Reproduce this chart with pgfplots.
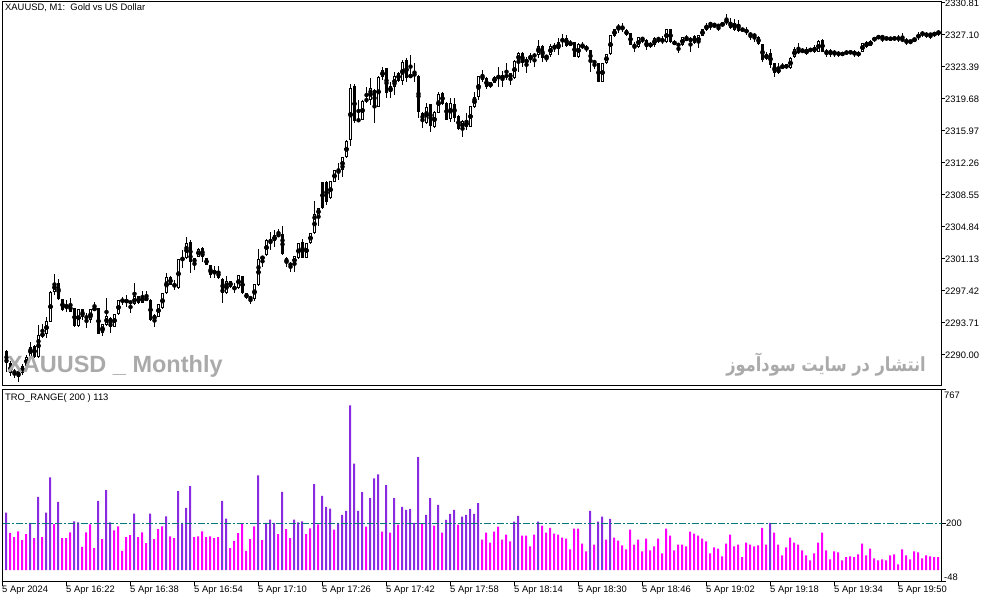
\documentclass[border=0pt]{standalone}
\usepackage{pgfplots}
\pgfplotsset{compat=1.18}
\usepackage{pgfplotstable}
\usepackage{fontspec}
\setmainfont{Liberation Sans}
\newfontfamily\arabicfont[Script=Arabic]{DejaVu Sans}
\TeXXeTstate=1
\definecolor{purp}{RGB}{138,43,226}
\definecolor{mag}{RGB}{255,0,255}
\definecolor{lvl}{RGB}{0,120,120}
\definecolor{wm}{RGB}{170,170,170}
\newcommand{\lbl}{\fontsize{9.4}{11}\selectfont}

\pgfplotstableread{
i O H L C V
1 2290.46 2290.58 2288.07 2289.03 244
2 2289.03 2289.30 2287.60 2287.90 158
3 2287.90 2288.40 2287.30 2288.10 140
4 2288.10 2288.50 2286.90 2287.50 165
5 2287.91 2288.90 2287.70 2288.73 128
6 2288.73 2290.00 2288.50 2289.81 153
7 2289.81 2291.55 2289.60 2290.97 201
8 2291.04 2291.20 2289.70 2289.81 136
9 2289.81 2293.48 2289.70 2292.32 311
10 2292.20 2293.59 2292.00 2292.51 140
11 2292.40 2294.44 2291.93 2293.94 244
12 2293.87 2297.40 2293.80 2297.34 394
13 2297.34 2299.39 2296.96 2298.31 196
14 2298.39 2298.77 2296.40 2296.45 290
15 2296.45 2296.50 2295.10 2295.22 136
16 2295.41 2296.38 2294.95 2295.80 136
17 2295.80 2296.57 2295.00 2295.02 161
18 2295.41 2295.50 2293.30 2293.36 207
19 2293.36 2295.35 2293.30 2295.29 203
20 2295.29 2295.35 2294.06 2294.44 99
21 2294.52 2294.83 2293.09 2294.25 161
22 2294.06 2295.30 2293.67 2295.29 194
23 2295.14 2296.18 2295.10 2295.53 94
24 2295.41 2295.50 2292.40 2292.43 294
25 2292.51 2293.60 2292.20 2293.59 132
26 2293.48 2296.57 2293.40 2294.56 340
27 2294.33 2294.40 2292.59 2293.29 203
28 2293.29 2294.80 2293.20 2294.71 169
29 2294.71 2296.40 2294.60 2296.38 186
30 2296.26 2296.76 2295.80 2296.38 82
31 2296.07 2296.96 2295.53 2296.45 140
32 2296.18 2296.30 2294.83 2296.07 149
33 2295.87 2298.39 2295.80 2296.84 240
34 2296.84 2296.90 2295.90 2295.99 140
35 2296.07 2297.46 2296.00 2296.80 161
36 2296.76 2297.46 2296.20 2296.26 115
37 2296.38 2296.50 2294.00 2294.06 240
38 2294.06 2294.70 2293.29 2294.64 132
39 2294.44 2295.90 2294.40 2295.87 174
40 2295.41 2297.20 2295.30 2297.15 186
41 2297.15 2299.47 2297.10 2299.08 228
42 2299.04 2299.10 2298.10 2298.12 144
43 2298.12 2298.69 2297.54 2298.00 136
44 2297.73 2301.10 2297.70 2301.09 336
45 2301.09 2302.17 2300.05 2301.21 201
46 2301.21 2303.72 2301.10 2303.02 265
47 2303.14 2303.30 2299.54 2300.82 357
48 2301.21 2301.30 2299.85 2300.70 140
49 2301.40 2302.40 2301.30 2302.25 144
50 2302.44 2302.50 2300.78 2301.40 165
51 2301.20 2301.30 2300.40 2300.43 140
52 2300.43 2300.50 2298.89 2299.27 144
53 2299.35 2300.31 2298.89 2299.85 136
54 2299.74 2300.31 2298.80 2298.89 140
55 2298.81 2298.90 2295.99 2297.22 294
56 2297.15 2299.19 2297.10 2298.58 219
57 2298.58 2298.60 2297.80 2297.92 94
58 2297.92 2298.31 2297.15 2297.61 124
59 2297.73 2299.30 2297.60 2299.27 157
60 2299.16 2299.20 2297.10 2297.15 196
61 2297.15 2297.20 2296.50 2296.64 82
62 2296.76 2296.90 2295.87 2296.45 132
63 2296.45 2298.20 2296.30 2298.19 186
64 2298.11 2302.29 2298.00 2301.09 403
65 2301.09 2301.50 2300.24 2301.47 128
66 2301.59 2303.40 2301.50 2303.33 201
67 2303.02 2304.29 2302.17 2303.21 215
68 2303.25 2304.49 2302.48 2303.87 201
69 2303.79 2304.57 2303.70 2303.99 153
70 2303.99 2304.99 2301.60 2301.67 332
71 2301.28 2301.40 2300.24 2300.62 174
72 2300.51 2300.82 2299.66 2300.45 136
73 2300.51 2301.50 2299.66 2301.47 215
74 2301.20 2303.00 2301.10 2302.94 203
75 2303.06 2303.45 2301.20 2301.28 207
76 2301.28 2303.00 2301.20 2302.94 153
77 2303.02 2304.20 2302.90 2304.10 178
78 2304.10 2307.85 2304.00 2306.30 365
79 2306.15 2307.10 2304.99 2307.08 194
80 2310.05 2310.10 2306.90 2307.00 315
81 2310.09 2310.20 2307.39 2307.70 269
82 2308.16 2310.20 2308.10 2310.17 261
83 2310.09 2311.50 2310.00 2311.44 172
84 2311.37 2312.22 2310.28 2311.44 201
85 2311.44 2313.00 2310.67 2312.99 235
86 2312.91 2314.90 2312.80 2314.81 252
87 2314.92 2321.37 2314.22 2320.91 700
88 2321.18 2321.37 2316.85 2317.12 452
89 2317.12 2319.55 2317.04 2317.31 252
90 2317.24 2319.55 2317.20 2319.44 331
91 2319.48 2321.10 2319.17 2319.63 185
92 2319.55 2322.07 2318.97 2320.91 306
93 2320.71 2320.80 2316.85 2318.86 390
94 2318.78 2322.30 2318.70 2322.26 407
95 2322.18 2323.42 2321.87 2323.03 164
96 2323.23 2323.30 2319.75 2320.40 361
97 2320.52 2321.68 2319.75 2321.18 159
98 2321.10 2322.84 2320.13 2322.34 306
99 2322.72 2322.84 2321.70 2321.80 193
100 2321.80 2324.19 2321.29 2324.00 269
101 2324.19 2324.38 2321.68 2322.07 256
102 2322.18 2324.77 2322.10 2322.53 260
103 2322.45 2323.80 2321.68 2322.57 201
104 2322.38 2322.50 2317.51 2318.20 480
105 2318.09 2318.20 2316.27 2317.12 197
106 2316.85 2319.25 2316.80 2318.78 235
107 2319.05 2319.10 2315.88 2316.54 306
108 2316.46 2318.30 2316.27 2318.20 189
109 2318.09 2320.52 2318.00 2320.21 277
110 2320.40 2320.52 2319.00 2319.09 159
111 2319.25 2319.30 2317.20 2317.24 214
112 2317.31 2319.75 2317.04 2319.25 239
113 2319.09 2319.75 2317.04 2317.51 256
114 2317.70 2317.80 2316.10 2316.19 193
115 2316.15 2317.20 2315.30 2317.12 227
116 2316.46 2318.01 2316.08 2317.12 235
117 2316.46 2318.90 2316.40 2318.86 260
118 2318.78 2320.52 2318.70 2319.94 239
119 2319.94 2322.40 2319.55 2322.34 285
120 2322.45 2323.03 2321.68 2321.87 130
121 2322.07 2322.26 2320.79 2321.10 159
122 2321.02 2321.70 2320.91 2321.68 117
123 2321.56 2322.30 2321.50 2322.26 164
124 2322.07 2323.42 2321.10 2322.34 185
125 2322.07 2322.92 2321.10 2322.38 130
126 2322.26 2323.81 2321.88 2322.46 151
127 2322.65 2322.70 2321.30 2322.07 122
128 2322.07 2324.19 2322.00 2324.08 206
129 2324.00 2325.16 2322.84 2325.04 231
130 2325.04 2325.10 2323.42 2323.89 147
131 2323.81 2324.58 2322.73 2324.31 147
132 2324.39 2324.97 2323.81 2324.66 101
133 2324.70 2324.97 2323.35 2324.77 151
134 2324.77 2326.51 2324.39 2325.82 206
135 2325.82 2325.90 2324.00 2324.39 189
136 2324.39 2324.80 2324.00 2324.77 159
137 2324.77 2326.01 2324.58 2325.82 180
138 2325.82 2326.13 2325.16 2325.66 155
139 2325.47 2326.71 2324.77 2326.32 151
140 2326.47 2327.21 2325.74 2326.59 138
141 2326.78 2327.09 2325.74 2325.89 134
142 2325.89 2326.51 2325.80 2326.28 88
143 2326.28 2326.30 2324.50 2324.58 176
144 2324.58 2326.13 2324.50 2326.01 176
145 2325.66 2326.32 2325.43 2325.93 113
146 2325.74 2325.93 2325.16 2325.43 80
147 2325.35 2325.40 2322.84 2324.00 252
148 2324.12 2324.19 2323.11 2323.81 109
149 2323.81 2323.90 2321.60 2321.68 206
150 2321.68 2323.90 2321.60 2323.81 227
151 2323.81 2324.95 2323.70 2324.89 130
152 2324.89 2327.15 2324.80 2327.09 218
153 2326.98 2327.85 2326.90 2327.79 138
154 2327.79 2328.44 2327.29 2328.17 126
155 2328.02 2328.44 2327.48 2327.75 105
156 2327.67 2327.75 2327.00 2327.09 88
157 2327.29 2327.35 2325.90 2325.93 172
158 2326.05 2326.32 2325.16 2325.66 109
159 2325.66 2326.90 2325.60 2326.82 130
160 2326.82 2326.90 2326.13 2326.51 80
161 2326.51 2326.60 2325.35 2325.66 134
162 2325.74 2326.32 2325.55 2326.20 84
163 2325.93 2326.90 2325.74 2326.71 101
164 2326.71 2326.90 2326.13 2326.59 134
165 2326.59 2326.98 2326.05 2326.32 71
166 2326.32 2327.85 2326.20 2327.79 176
167 2327.79 2327.85 2326.20 2326.32 147
168 2326.44 2326.50 2325.90 2325.93 84
169 2326.01 2326.05 2324.97 2325.93 109
170 2325.93 2326.90 2325.85 2326.82 109
171 2326.82 2327.09 2326.40 2326.44 101
172 2326.78 2326.85 2325.16 2326.32 164
173 2327.02 2327.09 2326.01 2326.13 155
174 2326.13 2327.15 2325.55 2327.09 147
175 2327.02 2327.80 2326.95 2327.75 134
176 2327.67 2328.50 2327.60 2328.25 122
177 2328.52 2328.64 2327.67 2328.25 71
178 2328.44 2328.50 2327.87 2328.14 97
179 2328.10 2328.25 2327.59 2328.25 92
180 2328.14 2328.60 2328.10 2328.52 59
181 2328.44 2329.53 2328.25 2328.91 113
182 2328.64 2329.02 2327.80 2327.87 151
183 2327.67 2328.91 2327.60 2328.52 101
184 2328.44 2328.83 2327.50 2327.59 109
185 2327.87 2327.90 2327.50 2327.59 55
186 2327.59 2328.06 2327.09 2327.48 117
187 2327.36 2327.48 2326.51 2326.98 109
188 2327.21 2327.29 2326.32 2326.90 101
189 2326.90 2326.98 2325.93 2326.05 105
190 2326.05 2326.10 2324.00 2324.19 180
191 2324.27 2325.16 2324.19 2324.89 109
192 2324.97 2325.43 2323.23 2323.61 201
193 2323.81 2323.90 2322.26 2322.65 159
194 2322.65 2323.88 2322.60 2323.23 109
195 2323.23 2323.81 2323.11 2323.61 63
196 2323.69 2323.75 2323.20 2323.23 97
197 2323.23 2324.50 2323.20 2324.46 138
198 2324.58 2325.74 2324.39 2325.43 117
199 2325.43 2326.13 2324.90 2324.97 109
200 2325.16 2325.66 2324.97 2325.35 84
201 2324.85 2325.74 2324.77 2325.43 63
202 2325.43 2325.55 2325.16 2325.35 42
203 2325.08 2325.93 2324.97 2325.74 71
204 2325.16 2326.50 2325.10 2326.44 117
205 2326.51 2326.60 2325.10 2325.16 159
206 2325.16 2325.43 2324.58 2325.08 84
207 2325.08 2325.43 2324.58 2325.16 46
208 2325.16 2325.35 2324.58 2324.97 80
209 2325.04 2325.28 2324.58 2324.85 76
210 2324.85 2325.16 2324.66 2324.97 42
211 2324.97 2325.35 2324.77 2325.16 55
212 2325.16 2325.35 2324.85 2325.04 59
213 2324.89 2325.35 2324.58 2325.16 55
214 2324.66 2325.20 2324.60 2325.16 67
215 2325.16 2326.15 2325.10 2326.13 113
216 2325.74 2326.40 2325.55 2326.24 63
217 2325.82 2326.50 2325.80 2326.44 92
218 2326.44 2326.90 2326.32 2326.82 50
219 2326.82 2327.09 2326.59 2326.90 42
220 2326.90 2326.98 2326.32 2326.82 46
221 2326.78 2326.98 2326.44 2326.63 42
222 2326.51 2326.85 2326.50 2326.82 63
223 2326.82 2326.98 2326.40 2326.63 67
224 2326.82 2327.09 2326.32 2326.59 25
225 2326.59 2327.29 2326.32 2326.51 88
226 2326.51 2326.71 2325.93 2326.32 63
227 2326.32 2326.51 2326.05 2326.44 46
228 2326.44 2326.75 2326.32 2326.71 80
229 2326.71 2327.48 2326.51 2327.21 76
230 2327.48 2327.59 2326.90 2327.09 50
231 2327.09 2327.48 2326.71 2327.21 63
232 2327.21 2327.36 2326.59 2327.09 59
233 2327.09 2327.48 2326.90 2327.36 55
234 2327.21 2327.67 2326.98 2327.55 55
}\data

\begin{document}
\begin{tikzpicture}
\useasboundingbox (0,0) rectangle (994pt,603pt);

% ---------- price pane ----------
\begin{axis}[
  at={(2.5pt,217.5pt)}, anchor=south west, scale only axis,
  width=939pt, height=384pt,
  xmin=0, xmax=234.75, ymin=2286.46, ymax=2330.98,
  axis line style={line width=1pt, black},
  xtick=\empty,
  ytick={2290.00,2293.71,2297.42,2301.13,2304.84,2308.55,2312.26,2315.97,2319.68,2323.39,2327.10,2330.81},
  yticklabels={2290.00,2293.71,2297.42,2301.13,2304.84,2308.55,2312.26,2315.97,2319.68,2323.39,2327.10,2330.81},
  ytick pos=right, yticklabel pos=right,
  tick align=outside, major tick length=3pt,
  tick style={line width=1pt, black},
  yticklabel style={font=\lbl, anchor=west, inner sep=0pt, xshift=0.5pt},
  clip=true,
]
% wicks
\addplot[only marks, mark=none, error bars/.cd, y dir=both, y explicit, error mark=none,
  error bar style={line width=1pt, black}]
  table[x=i, y expr=(\thisrow{H}+\thisrow{L})/2, y error expr=(\thisrow{H}-\thisrow{L})/2] {\data};
% bodies (outline / bearish fill)
\addplot[only marks, mark=none, error bars/.cd, y dir=both, y explicit, error mark=none,
  error bar style={line width=3pt, black}]
  table[x=i, y expr=(\thisrow{O}+\thisrow{C})/2, y error expr={max(abs(\thisrow{C}-\thisrow{O})/2,0.06)}] {\data};
% hollow interior of bullish bodies
\addplot[only marks, mark=none, unbounded coords=discard, error bars/.cd, y dir=both, y explicit, error mark=none,
  error bar style={line width=1pt, white}]
  table[x=i, y expr={(\thisrow{C}-\thisrow{O}>0.25) ? (\thisrow{O}+\thisrow{C})/2 : nan}, y error expr={(\thisrow{C}-\thisrow{O})/2-0.116}] {\data};
\end{axis}

% ---------- indicator pane ----------
\begin{axis}[
  at={(2.5pt,21.5pt)}, anchor=south west, scale only axis,
  width=939pt, height=192pt,
  xmin=0, xmax=234.75, ymin=-48, ymax=767,
  axis line style={line width=1pt, black},
  xtick={0,16,32,48,64,80,96,112,128,144,160,176,192,208,224},
  xticklabels={5 Apr 2024,5 Apr 16:22,5 Apr 16:38,5 Apr 16:54,5 Apr 17:10,5 Apr 17:26,5 Apr 17:42,5 Apr 17:58,5 Apr 18:14,5 Apr 18:30,5 Apr 18:46,5 Apr 19:02,5 Apr 19:18,5 Apr 19:34,5 Apr 19:50},
  xtick pos=bottom,
  ytick={200}, yticklabels={200},
  extra y ticks={-48,767}, extra y tick labels={},
  ytick pos=right, yticklabel pos=right,
  tick align=outside, major tick length=4pt,
  tick style={line width=1pt, black},
  xticklabel style={font=\lbl, anchor=north west, inner sep=0pt, xshift=-0.5pt},
  yticklabel style={font=\lbl, anchor=west, inner sep=0pt, xshift=0.5pt},
  clip=true,
]
\addplot[ybar, bar width=2pt, bar shift=-0.5pt, fill=purp, draw=none]
  table[x=i, y expr={\thisrow{V}>=200 ? \thisrow{V} : nan}] {\data};
\addplot[ybar, bar width=2pt, bar shift=-0.5pt, fill=mag, draw=none]
  table[x=i, y expr={\thisrow{V}<200 ? \thisrow{V} : nan}] {\data};
\addplot[lvl, line width=1pt, dash pattern=on 7pt off 2pt on 2pt off 2pt] coordinates {(0,200) (234.75,200)};
\end{axis}

% ---------- texts ----------
\node[anchor=west, inner sep=0pt, font=\lbl] at (5pt,595pt) {XAUUSD, M1:\ \ Gold vs US Dollar};
\node[anchor=west, inner sep=0pt, font=\lbl] at (5pt,205pt) {TRO\_RANGE( 200 ) 113};
\node[anchor=west, inner sep=0pt, font=\lbl] at (944pt,208pt) {767};
\node[anchor=west, inner sep=0pt, font=\lbl] at (944pt,26pt) {-48};
\node[anchor=base west, inner sep=0pt, text=wm, font=\bfseries\fontsize{23.5}{28}\selectfont] at (7pt,230.3pt) {XAUUSD \_ Monthly};
\node[anchor=base east, inner sep=0pt, text=wm, font=\arabicfont\bfseries\fontsize{16.2}{20}\selectfont] at (926pt,231pt) {\scalebox{1}[1.2]{\beginR انتشار در سایت سودآموز\endR}};
\end{tikzpicture}
\end{document}
